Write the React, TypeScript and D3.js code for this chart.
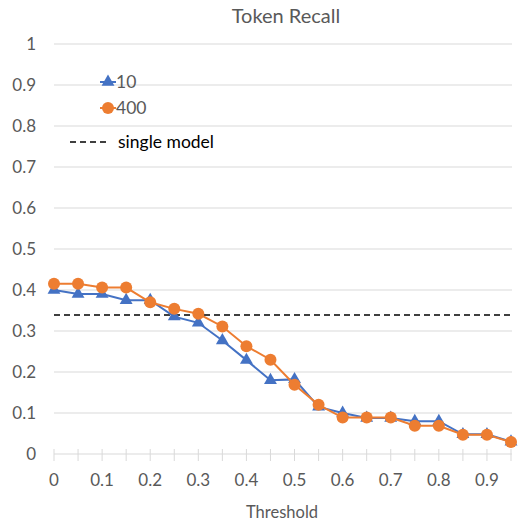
import React from "react";
import * as d3 from "d3";

const thresholds = ["0", "0.05", "0.1", "0.15", "0.2", "0.25", "0.3", "0.35", "0.4", "0.45", "0.5", "0.55", "0.6", "0.65", "0.7", "0.75", "0.8", "0.85", "0.9", "0.95"];
const recall10 = [0.4, 0.39, 0.39, 0.375, 0.375, 0.335, 0.32, 0.277, 0.229, 0.18, 0.182, 0.115, 0.1, 0.088, 0.088, 0.08, 0.08, 0.048, 0.048, 0.03];
const recall400 = [0.415, 0.415, 0.406, 0.406, 0.37, 0.354, 0.342, 0.311, 0.263, 0.23, 0.169, 0.12, 0.089, 0.089, 0.089, 0.069, 0.069, 0.047, 0.047, 0.029];
const singleModel = 0.339;
const yTicks = [0, 0.1, 0.2, 0.3, 0.4, 0.5, 0.6, 0.7, 0.8, 0.9, 1];
const xLabels = ["0", "0.1", "0.2", "0.3", "0.4", "0.5", "0.6", "0.7", "0.8", "0.9"];

const W = 518;
const H = 523;
const font = "Lato, 'Open Sans', sans-serif";
const grey = "#595959";
const blue = "#4472C4";
const orange = "#ED7D31";

const App = () => {
  const x = d3.scalePoint<string>().domain(thresholds).range([54, 511]);
  const y = d3.scaleLinear().domain([0, 1]).range([454, 44]);

  const line = d3
    .line<number>()
    .x((d, i) => x(thresholds[i]) as number)
    .y((d) => y(d));

  const tri = d3.symbol().type(d3.symbolTriangle).size(72)() as string;

  return (
    <svg width={W} height={H} style={{ position: "absolute", left: 0, top: 0, background: "#fff" }}>
      <text x={286} y={23} textAnchor="middle" fontFamily={font} fontSize={20} fill={grey}>
        Token Recall
      </text>

      {/* gridlines + y labels */}
      {yTicks.map((t) => (
        <g key={t}>
          {t > 0 && (
            <line x1={54} x2={512} y1={y(t)} y2={y(t)} stroke="#d9d9d9" strokeWidth={1} />
          )}
          <text x={36} y={y(t)} dy="0.35em" textAnchor="end" fontFamily={font} fontSize={17} fill={grey}>
            {t}
          </text>
        </g>
      ))}

      {/* x axis */}
      <line x1={54} x2={512} y1={y(0)} y2={y(0)} stroke="#d9d9d9" strokeWidth={1} />
      {thresholds.map((c) => (
        <line key={c} x1={x(c)} x2={x(c)} y1={y(0) - 5} y2={y(0) + 7} stroke="#d9d9d9" strokeWidth={1} />
      ))}
      {xLabels.map((c) => (
        <text key={c} x={x(c)} y={486} textAnchor="middle" fontFamily={font} fontSize={17} fill={grey}>
          {c}
        </text>
      ))}
      <text x={282} y={518} textAnchor="middle" fontFamily={font} fontSize={16.5} fill={grey}>
        Threshold
      </text>

      {/* single model */}
      <line x1={54} x2={512} y1={y(singleModel)} y2={y(singleModel)} stroke="#000" strokeWidth={1.5} strokeDasharray="6,4" />

      {/* series 10 */}
      <path d={line(recall10) as string} fill="none" stroke={blue} strokeWidth={2} />
      {recall10.map((v, i) => (
        <path key={i} d={tri} transform={`translate(${x(thresholds[i])},${y(v)})`} fill={blue} />
      ))}

      {/* series 400 */}
      <path d={line(recall400) as string} fill="none" stroke={orange} strokeWidth={2} />
      {recall400.map((v, i) => (
        <circle key={i} cx={x(thresholds[i])} cy={y(v)} r={6} fill={orange} />
      ))}

      {/* legend */}
      <line x1={100} x2={116} y1={82} y2={82} stroke={blue} strokeWidth={2} />
      <path d={tri} transform="translate(108,82)" fill={blue} />
      <text x={116} y={82} dy="0.35em" fontFamily={font} fontSize={17.5} fill={grey}>10</text>
      <line x1={100} x2={116} y1={108} y2={108} stroke={orange} strokeWidth={2} />
      <circle cx={108} cy={108} r={6} fill={orange} />
      <text x={116} y={108} dy="0.35em" fontFamily={font} fontSize={17.5} fill={grey}>400</text>
      <line x1={70} x2={110} y1={142} y2={142} stroke="#000" strokeWidth={1.5} strokeDasharray="6,4" />
      <text x={118} y={142} dy="0.35em" fontFamily={font} fontSize={17.5} fill="#000">single model</text>
    </svg>
  );
};

export default App;
